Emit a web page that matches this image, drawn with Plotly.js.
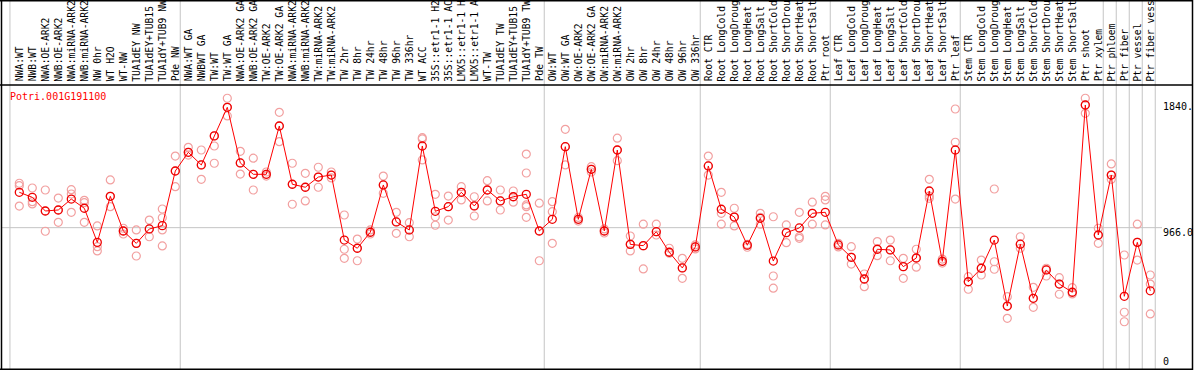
<!DOCTYPE html>
<html><head><meta charset="utf-8">
<script src="https://cdn.plot.ly/plotly-3.0.1.min.js"></script>
<style>html,body{margin:0;padding:0;background:#fff}#chart{width:1194px;height:370px}</style>
</head><body><div id="chart"></div>
<script>
const geneId = "Potri.001G191100";
const labels = ["NWA:WT","NWB:WT","NWA:OE-ARK2","NWB:OE-ARK2","NWA:miRNA-ARK2","NWB:miRNA-ARK2","NW 0hr","WT H2O","WT-NW","TUA1dEY NW","TUA1dEY+TUB15","TUA1dY+TUB9 NW","Pde NW",
"NWA:WT GA","NWBWT GA","TW:WT","TW:WT GA","NWA:OE-ARK2 GA","NWB:OE-ARK2 GA","TW:OE-ARK2","TW:OE-ARK2 GA","NWA:miRNA-ARK2","NWB:miRNA-ARK2","TW:miRNA-ARK2","TW:miRNA-ARK2","TW 2hr","TW 8hr","TW 24hr","TW 48hr","TW 96hr","TW 336hr","WT ACC","35S::etr1-1 H2","35S::etr1-1 AC","LMX5::etr1-1 H","LMX5::etr1-1 A","WT-TW","TUA1dEY TW","TUA1dEY+TUB15","TUA1dY+TUB9 TW","Pde TW",
"OW:WT","OW:WT GA","OW:OE-ARK2","OW:OE-ARK2 GA","OW:miRNA-ARK2","OW:miRNA-ARK2","OW 2hr","OW 8hr","OW 24hr","OW 48hr","OW 96hr","OW 336hr",
"Root CTR","Root LongCold","Root LongDroug","Root LongHeat","Root LongSalt","Root ShortCold","Root ShortDrou","Root ShortHeat","Root ShortSalt","Ptr root",
"Leaf CTR","Leaf LongCold","Leaf LongDroug","Leaf LongHeat","Leaf LongSalt","Leaf ShortCold","Leaf ShortDrou","Leaf ShortHeat","Leaf ShortSalt","Ptr leaf",
"Stem CTR","Stem LongCold","Stem LongDroug","Stem LongHeat","Stem LongSalt","Stem ShortCold","Stem ShortDrou","Stem ShortHeat","Stem ShortSalt","Ptr shoot",
"Ptr xylem","Ptr phloem","Ptr fiber","Ptr vessel","Ptr fiber vess"];

const means = [1212,1177,1082,1089,1165,1101,864,1184,943,857,957,980,1360,
1490,1402,1604,1803,1416,1337,1337,1673,1268,1247,1318,1332,880,823,934,1263,1006,950,1534,1080,1112,1212,1117,1228,1152,1181,1198,943,
1024,1529,1024,1372,943,1506,850,841,938,795,686,832,
1395,1094,1040,844,1031,734,931,964,1066,1073,
846,760,609,816,811,695,755,1221,732,1506,
590,684,880,421,851,475,672,574,517,1819,
915,1332,489,864,527];

const reps = [[1275,1258,1116],[1242,1147,1131],[1228,1082,941],[1172,1089,1003],[1230,1200,1073],[1156,1140,1003],[978,834,804],[1298,1184,1112],[962,943,922],[950,857,769],[1019,957,903],[1096,1035,950,839],[1464,1360,1251],
[1525,1490,1471],[1506,1402,1302],[1604,1534,1414],[1866,1803,1743],[1497,1416,1339],[1449,1337,1228],[1353,1337,1325],[1768,1673,1564],[1414,1268,1129],[1344,1247,1152],[1386,1318,1247],[1353,1332,1312],[1054,816,753],[887,823,736],[950,934,922],[1325,1263,1205],[1073,1006,927],[1001,950,903],[1592,1583,1437],[1198,1042,983],[1186,1112,1019],[1251,1212,1159],[1181,1117,1047],[1293,1228,1152],[1228,1152,1089],[1221,1181,1143],[1478,1346,1124,1112,1038],[1136,943,736],
[1147,1077,857],[1650,1529,1402],[1037,1024,1012],[1390,1372,1353],[957,943,929],[1588,1506,1432],[908,850,804],[990,839,679],[990,938,915],[823,795,788],[753,686,614],[846,832,818],
[1464,1395,1332],[1212,1066,990],[1101,1040,978],[850,844,830],[1066,1038,990],[1042,630,545],[985,931,862],[1073,903,892],[1143,1066,990],[1184,1159,985],
[857,846,832],[834,760,713],[644,609,556],[869,816,771],[880,811,736],[753,695,614],[816,755,691],[1302,1186,1170],[748,732,720],[1791,1560,1165],
[625,590,538],[741,684,637],[1235,729,677],[486,421,336],[903,851,823],[551,475,412],[684,672,630],[618,574,503],[549,517,505],[1866,1819,1761],
[962,915,857],[1409,1332,1302],[776,378,312],[990,864,741],[637,574,366]];

const groupEnds = [12,40,52,62,72,83,84,85,86,87];
const yTickVals = [0, 966.0, 1840];
const yTickText = ["0", "966.0", "1840."];

const W = 1194, H = 370;
const mono = "DejaVu Sans Mono, monospace";
const xIdx = labels.map((_, i) => i);
const repX = [], repY = [];
reps.forEach((r, i) => r.forEach(v => { repX.push(i); repY.push(v); }));

const traces = [
  {x: repX, y: repY, type: 'scatter', mode: 'markers', hoverinfo: 'skip',
   marker: {symbol: 'circle-open', size: 8, color: '#f2a0a0', line: {width: 1.2, color: '#f2a0a0'}}},
  {x: xIdx, y: means, type: 'scatter', mode: 'lines+markers', hoverinfo: 'skip',
   line: {color: '#ff0000', width: 1},
   marker: {symbol: 'circle-open', size: 8, color: '#ee0000', line: {width: 1.3, color: '#ee0000'}}}
];

const shapes = [];
const grid = '#c4c4c4';
const gridXs = [-0.72].concat(groupEnds.map(e => e + 0.38));
gridXs.forEach(gx => shapes.push({type: 'line', xref: 'x', yref: 'paper', x0: gx, x1: gx, y0: 0, y1: 1, line: {color: grid, width: 1}, layer: 'below'}));
shapes.push({type: 'line', xref: 'paper', yref: 'y', x0: 1.7 / W, x1: 1162 / W, y0: yTickVals[1], y1: yTickVals[1], line: {color: grid, width: 1}, layer: 'below'});
const px = v => v / W, py = v => 1 - v / H;
const blk = {color: '#000', width: 1.5};
shapes.push({type: 'line', xref: 'paper', yref: 'paper', x0: px(1.5), x1: px(1.5), y0: 0, y1: 1, line: blk});
shapes.push({type: 'line', xref: 'paper', yref: 'paper', x0: px(1192.5), x1: px(1192.5), y0: 0, y1: 1, line: blk});
shapes.push({type: 'line', xref: 'paper', yref: 'paper', x0: 0, x1: px(1193), y0: py(85), y1: py(85), line: blk});
shapes.push({type: 'line', xref: 'paper', yref: 'paper', x0: 0, x1: px(1193), y0: py(0.7), y1: py(0.7), line: blk});
shapes.push({type: 'line', xref: 'paper', yref: 'paper', x0: 0, x1: px(1193), y0: py(369.2), y1: py(369.2), line: blk});

const annotations = [];
labels.forEach((t, i) => annotations.push({
  text: t, x: i, xref: 'x', y: py(82.5), yref: 'paper', xanchor: 'center', yanchor: 'bottom',
  textangle: -90, showarrow: false, borderpad: 0, font: {family: mono, size: 9.7, color: '#000'}
}));
annotations.push({text: geneId, x: px(8.5), xref: 'paper', y: py(96.7), yref: 'paper', xanchor: 'left', yanchor: 'middle',
  showarrow: false, borderpad: 0, font: {family: mono, size: 10, color: '#ff0000'}});
yTickVals.forEach((v, k) => annotations.push({text: yTickText[k], x: px(1162), xref: 'paper', y: v, yref: 'y',
  xanchor: 'left', yanchor: 'middle', yshift: v === 0 ? 5 : -5, showarrow: false, borderpad: 0,
  font: {family: mono, size: 10, color: '#000'}}));

const layout = {
  width: W, height: H, margin: {l: 0, r: 0, t: 0, b: 0, pad: 0},
  paper_bgcolor: '#fff', plot_bgcolor: '#fff', showlegend: false,
  xaxis: {range: [-19.3 / 13, (W - 19.3) / 13], visible: false, fixedrange: true},
  yaxis: {range: [-23.6, 2549], visible: false, fixedrange: true},
  shapes: shapes, annotations: annotations
};
Plotly.newPlot('chart', traces, layout, {staticPlot: true, displayModeBar: false});
</script></body></html>
